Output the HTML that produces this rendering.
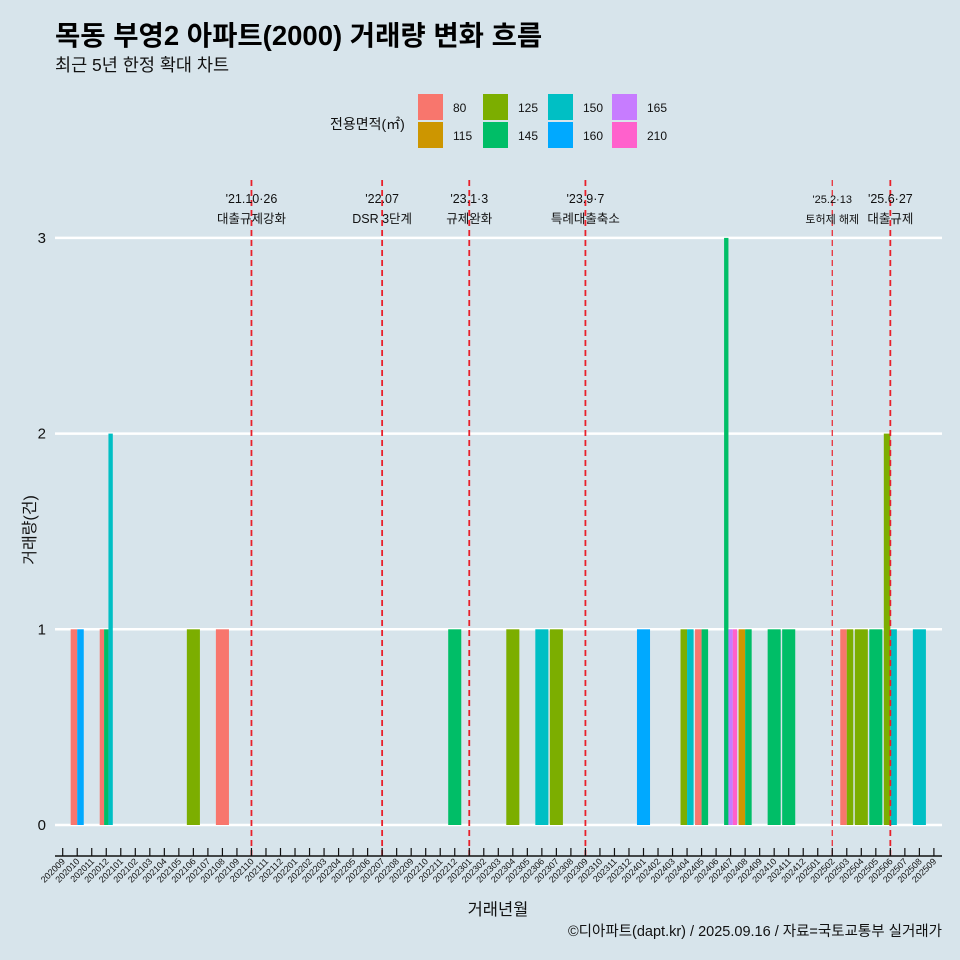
<!DOCTYPE html>
<html><head><meta charset="utf-8"><style>
body{margin:0;background:#d7e4eb;}
svg{display:block;font-family:"Liberation Sans","Noto Sans CJK KR",sans-serif;}
</style></head><body>
<svg id="chart" width="960" height="960" viewBox="0 0 960 960">
<rect width="960" height="960" fill="#d7e4eb"/>
<text x="55" y="45" font-size="27.5" font-weight="bold" fill="#000">목동 부영2 아파트(2000) 거래량 변화 흐름</text>
<text x="55" y="71" font-size="17.5" fill="#111">최근 5년 한정 확대 차트</text>
<g id="legend">
<text x="330" y="129" font-size="14" fill="#111">전용면적(㎡)</text>
</g>
<g id="grid"></g><g id="bars"></g><g id="events"></g><g id="axes"></g>
<text transform="translate(35,530) rotate(-90)" text-anchor="middle" font-size="16" fill="#111">거래량(건)</text>
<text x="498" y="915" text-anchor="middle" font-size="16.5" fill="#111">거래년월</text>
<text x="942" y="936" text-anchor="end" font-size="14.5" fill="#111">©디아파트(dapt.kr) / 2025.09.16 / 자료=국토교통부 실거래가</text>
</svg>
<script>
const areas=["80","115","125","145","150","160","165","210"];
const areaColors=["#F8766D","#CD9600","#7CAE00","#00BE67","#00BFC4","#00A9FF","#C77CFF","#FF61CC"];
const months=[];
for(let y=2020,m=9;!(y===2025&&m===10);){months.push(""+y+(m<10?"0":"")+m);m++;if(m>12){m=1;y++;}}
const dataMonth=["202010","202010","202012","202012","202012","202106","202108","202212","202304","202306","202307","202401","202404","202404","202405","202405","202407","202407","202407","202408","202408","202410","202411","202503","202503","202504","202505","202506","202506","202508"];
const dataArea=["80","160","80","145","150","125","80","145","125","150","125","160","125","150","80","145","145","165","210","115","145","145","145","80","125","125","145","125","150","150"];
const dataCount=[1,1,1,1,2,1,1,1,1,1,1,1,1,1,1,1,3,1,1,1,1,1,1,1,1,1,1,2,1,1];
const yTicks=[0,1,2,3];
const eventMonth=["202110","202207","202301","202309","202502","202506"];
const eventLine1=["'21.10·26","'22.07","'23.1·3","'23.9·7","'25.2·13","'25.6·27"];
const eventLine2=["대출규제강화","DSR 3단계","규제완화","특례대출축소","토허제 해제","대출규제"];

const NS="http://www.w3.org/2000/svg";
const x0=62.7,step=14.52,yZero=825,unit=195.7,xL=55,xR=942;
const xs=i=>x0+step*i;
const ys=v=>yZero-unit*v;
function mk(tag,attrs,parent,text){const e=document.createElementNS(NS,tag);for(const k in attrs)e.setAttribute(k,attrs[k]);if(text!==undefined)e.textContent=text;parent.appendChild(e);return e;}
const grid=document.getElementById('grid'),bars=document.getElementById('bars'),ev=document.getElementById('events'),axes=document.getElementById('axes'),legend=document.getElementById('legend');

yTicks.forEach(t=>{
  const l=mk('line',{x1:xL,x2:xR,y1:ys(t),y2:ys(t),stroke:'#fff','stroke-width':2.5},grid);
  
  
  const tx=mk('text',{x:46,y:ys(t)+5,'text-anchor':'end','font-size':15,fill:'#111'},axes,t);
  
  
});

const groups={};
dataMonth.forEach((m,i)=>{(groups[m]=groups[m]||[]).push(i);});
Object.keys(groups).forEach(m=>{
  const idx=groups[m].sort((a,b)=>areas.indexOf(dataArea[a])-areas.indexOf(dataArea[b]));
  const mi=months.indexOf(m);const total=step*0.9;const w=total/idx.length;
  idx.forEach((d,k)=>{
    const x=xs(mi)-total/2+k*w;
    const r=mk('rect',{x:x,y:ys(dataCount[d]),width:w,height:ys(0)-ys(dataCount[d]),fill:areaColors[areas.indexOf(dataArea[d])]},bars);
    
    
  });
});

eventMonth.forEach((m,i)=>{
  const x=xs(months.indexOf(m));const thin=(m==="202502");
  const l=mk('line',{x1:x,x2:x,y1:180,y2:856,stroke:'#e8202a','stroke-width':thin?1.2:1.8,'stroke-dasharray':'6,4'},ev);
  
  
  const fs=thin?11:12.5;
  const t1=mk('text',{x:x,y:203,'text-anchor':'middle','font-size':fs,fill:'#111'},ev,eventLine1[i]);
  
  
  const t2=mk('text',{x:x,y:223,'text-anchor':'middle','font-size':fs,fill:'#111'},ev,eventLine2[i]);
  
  
});

const ax=mk('line',{x1:xL,x2:xR,y1:856,y2:856,stroke:'#111','stroke-width':1.5},axes);


months.forEach((m,i)=>{
  const x=xs(i);
  const t=mk('line',{x1:x,x2:x,y1:848,y2:856,stroke:'#111','stroke-width':1.2},axes);
  
  
  const tx=mk('text',{x:x+3,y:862,'text-anchor':'end','font-size':9,fill:'#111',transform:`rotate(-45 ${x+3} 862)`},axes,m);
  
  
});

const colX=[418,483,548,612];
areas.forEach((a,i)=>{
  const col=Math.floor(i/2),row=i%2;
  const bx=colX[col],by=94+row*28;
  const r=mk('rect',{x:bx,y:by,width:25,height:26,fill:areaColors[i]},legend);
  
  
  const t=mk('text',{x:bx+35,y:by+18,'font-size':12,fill:'#111'},legend,a);
  
  
});
</script>
</body></html>
